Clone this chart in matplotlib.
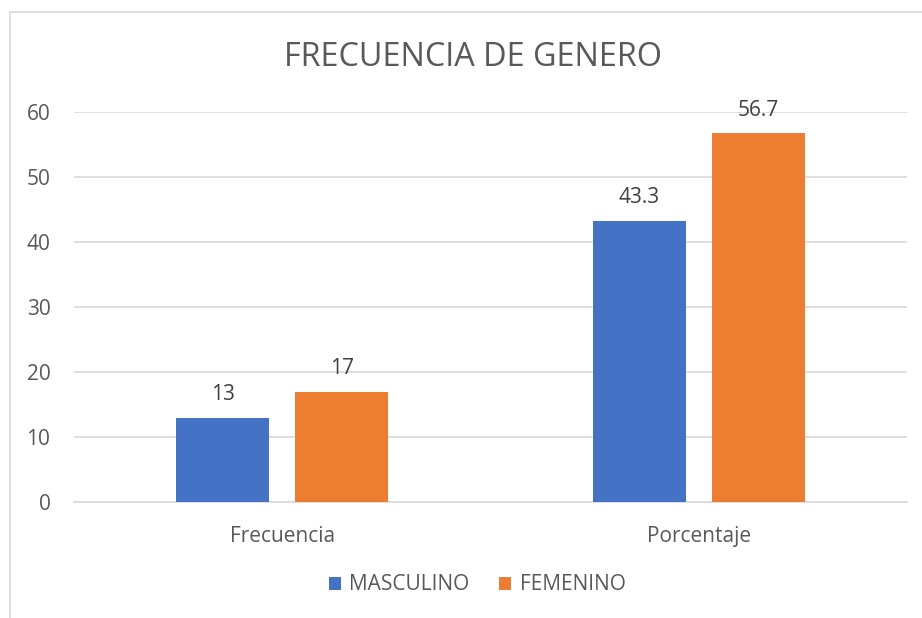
import matplotlib
matplotlib.use("Agg")
import matplotlib.pyplot as plt
from matplotlib.patches import Rectangle
import numpy as np

categories = ["Frecuencia", "Porcentaje"]
masculino = [13, 43.3]
femenino = [17, 56.7]
series_names = ["MASCULINO", "FEMENINO"]
yticks = [0, 10, 20, 30, 40, 50, 60]

plt.rcParams['font.family'] = ['Open Sans', 'DejaVu Sans']
gray = '#595959'
fs = 15

fig = plt.figure(figsize=(9.22, 6.18), dpi=100)
# outer chart border (cropped on right/bottom)
fig.patches.append(Rectangle((10/922, -0.1), 1.2, (618-12)/618 + 0.1,
                             transform=fig.transFigure, fill=False,
                             edgecolor='#d9d9d9', linewidth=1.2))

ax = fig.add_axes([74/922, 116/618, 833/922, 390/618])
x = np.arange(len(categories))
w = 0.223
off = 0.143
b1 = ax.bar(x - off, masculino, w, color='#4472C4', label=series_names[0], zorder=3)
b2 = ax.bar(x + off, femenino, w, color='#ED7D31', label=series_names[1], zorder=3)

for bars, vals in ((b1, masculino), (b2, femenino)):
    for rect, v in zip(bars, vals):
        ax.annotate(f"{v:g}", (rect.get_x() + rect.get_width()/2, v),
                    xytext=(0, 9), textcoords='offset points',
                    ha='center', va='bottom', fontsize=fs, color='#404040')

ax.set_xlim(-0.5, 1.5)
ax.set_ylim(0, 60)
ax.set_yticks(yticks)
ax.set_xticks(x)
ax.set_xticklabels(categories)
ax.yaxis.grid(True, color='#d9d9d9', linewidth=1.2, zorder=0)
for s in ['top', 'right', 'left']:
    ax.spines[s].set_visible(False)
ax.spines['bottom'].set_color('#d9d9d9')
ax.spines['bottom'].set_linewidth(1.2)
ax.tick_params(axis='both', length=0, colors=gray, labelsize=fs)
ax.tick_params(axis='y', pad=17)
ax.tick_params(axis='x', pad=17)

fig.text(473/922, 1 - 57/618, "FRECUENCIA DE GENERO", ha='center', va='center',
         fontsize=23.3, color=gray)

leg = fig.legend(handles=[b1, b2], labels=series_names, loc='center',
                 bbox_to_anchor=(477/922, 1 - 585/618), ncol=2, frameon=False,
                 fontsize=fs, handlelength=0.6, handleheight=0.6,
                 handletextpad=0.4, columnspacing=1.4)
for t in leg.get_texts():
    t.set_color(gray)

fig.savefig("out.png", dpi=100)
